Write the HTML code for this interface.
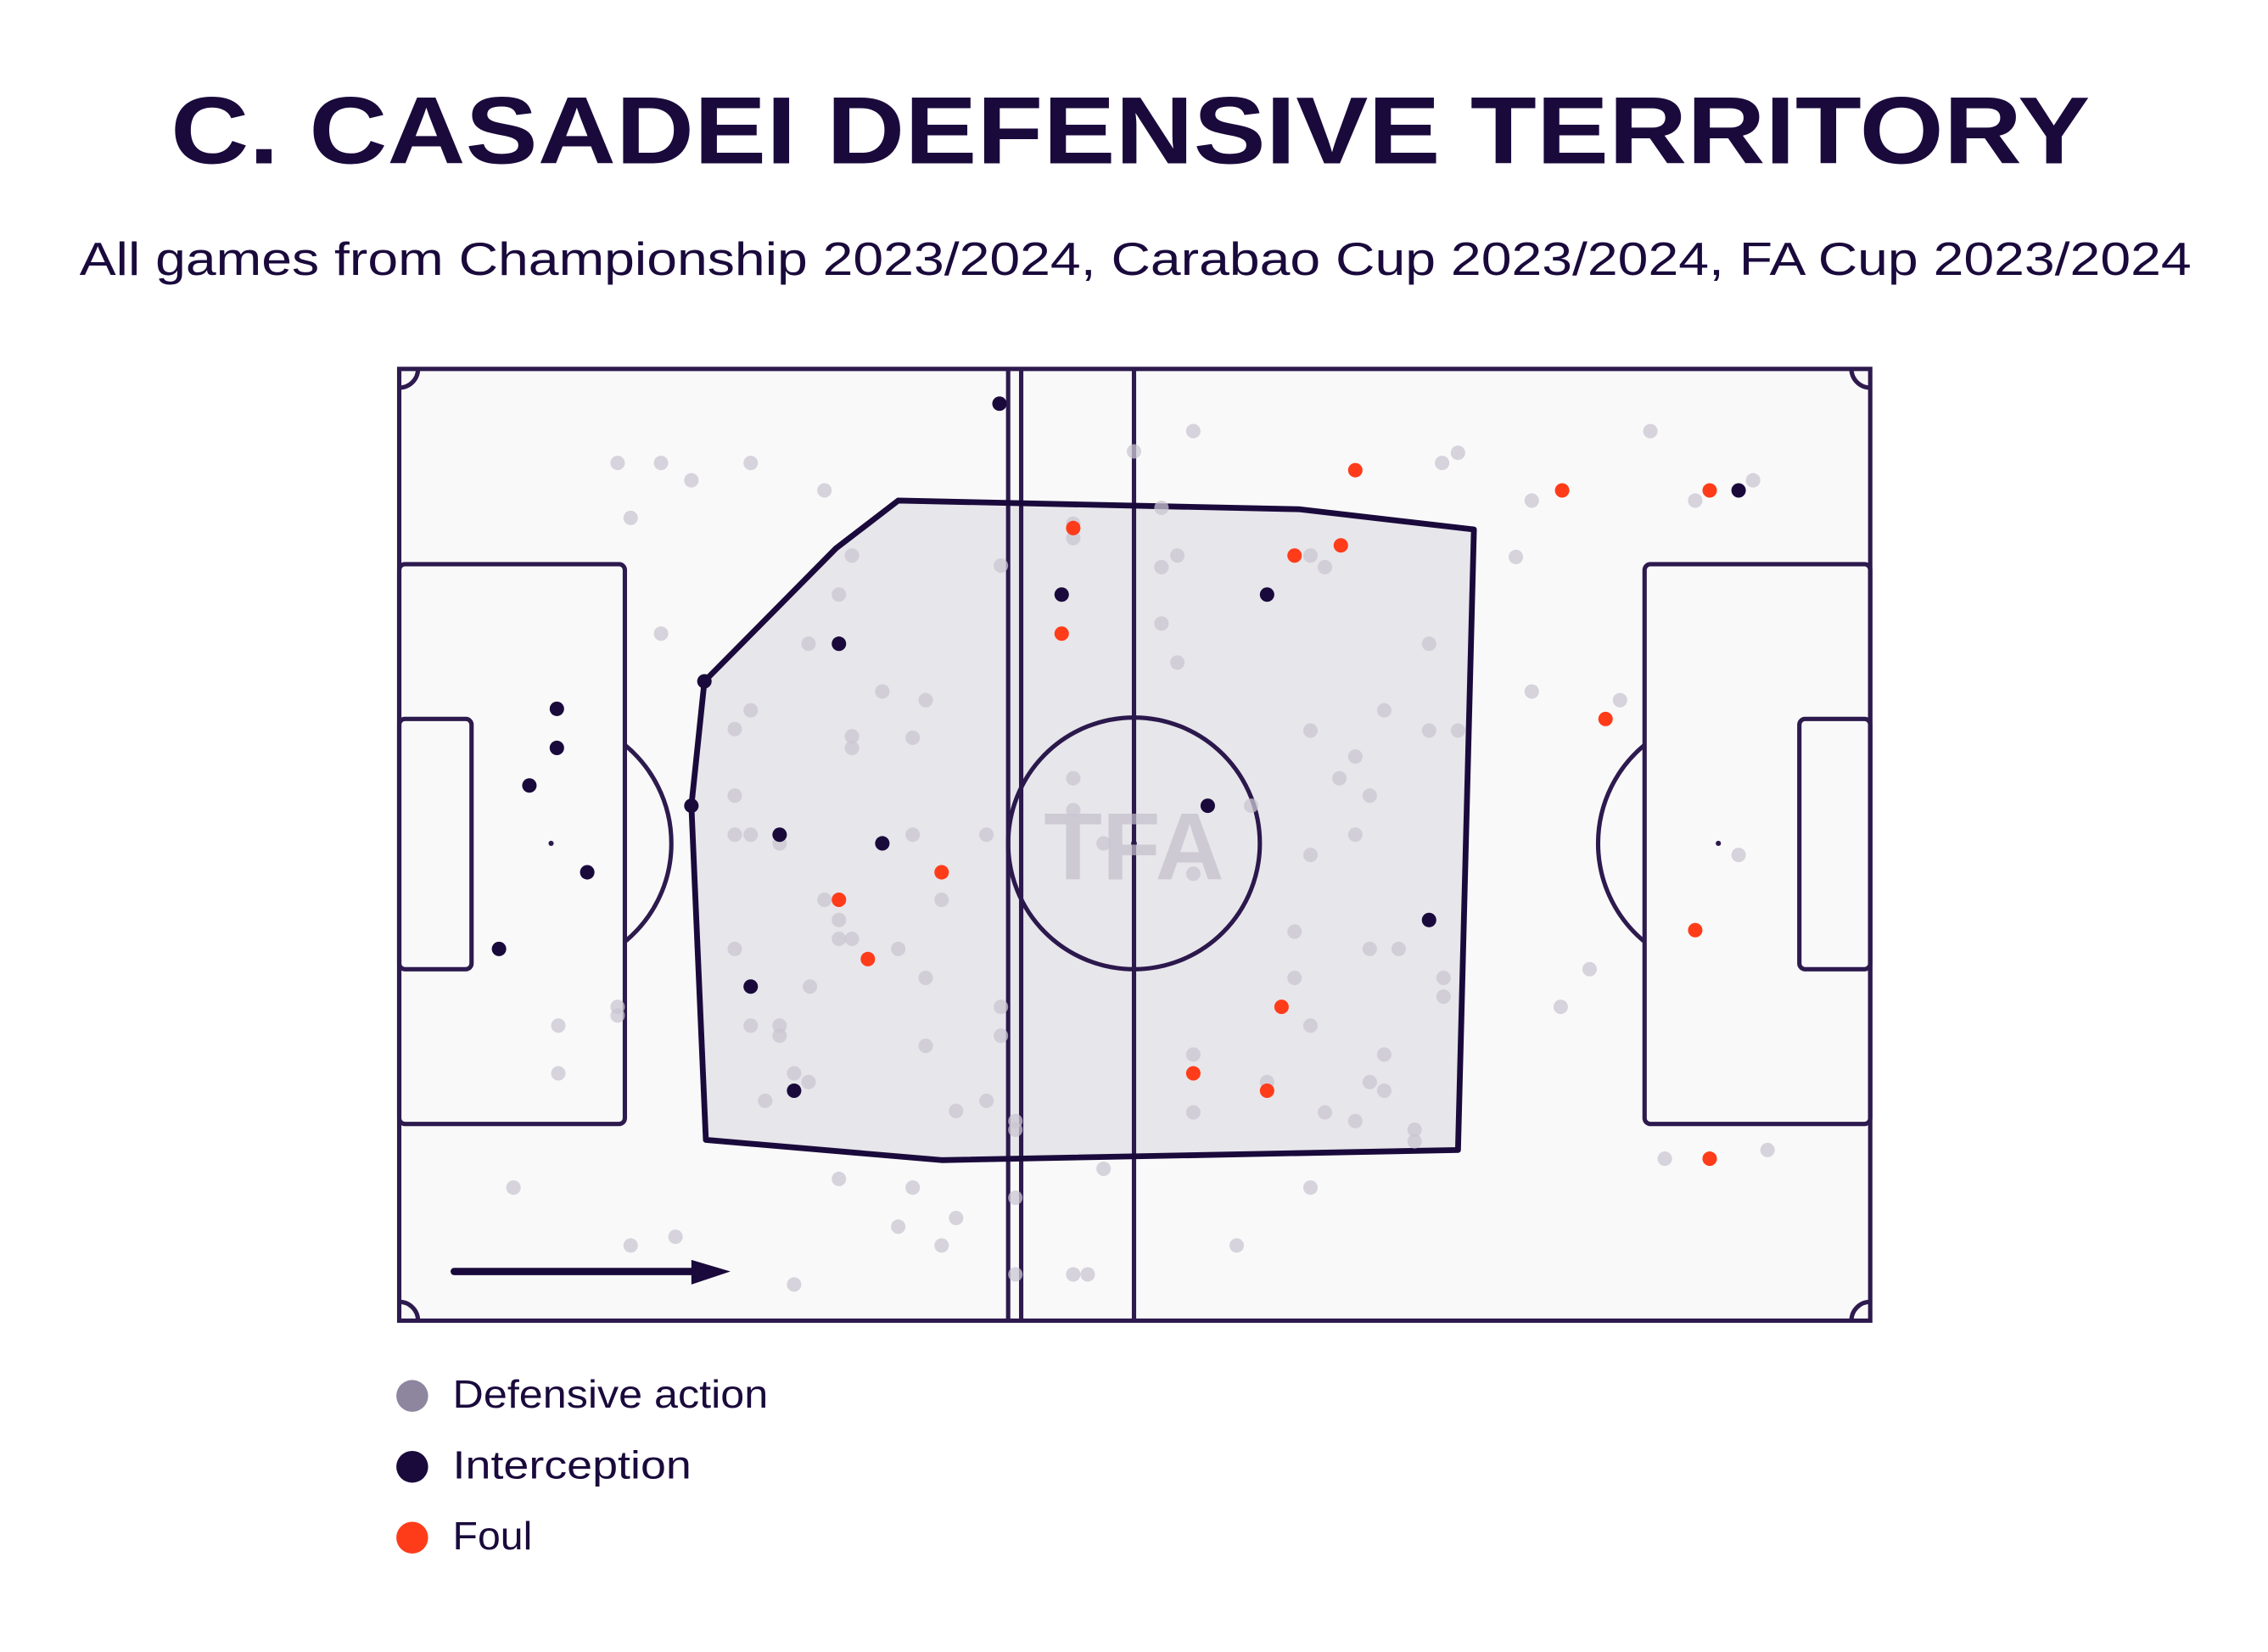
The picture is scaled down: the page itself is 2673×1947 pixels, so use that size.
<!DOCTYPE html>
<html><head><meta charset="utf-8"><style>
html,body{margin:0;padding:0;background:#fff;}
svg{display:block;}
</style></head><body>
<svg width="2673" height="1947" viewBox="0 0 1568 1142" xmlns="http://www.w3.org/2000/svg" font-family="'Liberation Sans', sans-serif">
<rect width="1568" height="1142" fill="#fff"/>
<text x="118" y="113" font-size="66" font-weight="900" fill="#1a0a3c" textLength="1327" lengthAdjust="spacingAndGlyphs">C. CASADEI DEFENSIVE TERRITORY</text>
<text x="55" y="190" font-size="32" fill="#1a0a3c" textLength="1460" lengthAdjust="spacingAndGlyphs">All games from Championship 2023/2024, Carabao Cup 2023/2024, FA Cup 2023/2024</text>
<g fill="none" stroke="#2d1a4e" stroke-width="3">
<rect x="276" y="255" width="1017" height="658" fill="#f9f9f9"/>
<line x1="784" y1="255" x2="784" y2="913"/>
<line x1="697" y1="255" x2="697" y2="913"/>
<line x1="706" y1="255" x2="706" y2="913"/>
<circle cx="784" cy="583" r="87"/>
<rect x="276" y="390" width="156" height="387" rx="4"/>
<rect x="276" y="497" width="50" height="173" rx="4"/>
<path d="M432 515 A88 88 0 0 1 432 651"/>
<rect x="1137" y="390" width="156" height="387" rx="4"/>
<rect x="1244" y="497" width="49" height="173" rx="4"/>
<path d="M1137 515 A88 88 0 0 0 1137 651"/>
<path d="M276 268 A13 13 0 0 0 289 255"/>
<path d="M1280 255 A13 13 0 0 0 1293 268"/>
<path d="M276 900 A13 13 0 0 1 289 913"/>
<path d="M1280 913 A13 13 0 0 1 1293 900"/>
</g>
<circle cx="381" cy="583" r="1.8" fill="#2d1a4e"/>
<circle cx="1188" cy="583" r="1.8" fill="#2d1a4e"/>
<circle cx="784" cy="583" r="2" fill="#2d1a4e"/>
<text x="784" y="608" text-anchor="middle" font-size="66" font-weight="900" fill="#d2cfd8" opacity="0.7">TFA</text>
<polygon points="621,346 898,352 1019,366 1008,795 651,802 488,788 478,557 487,471 578,379" fill="#1a0a3c" fill-opacity="0.08" stroke="#1a0a3c" stroke-width="4" stroke-linejoin="round"/>
<g fill="#c9c5d2" fill-opacity="0.75">
<circle cx="427" cy="320" r="5"/><circle cx="457" cy="320" r="5"/><circle cx="478" cy="332" r="5"/><circle cx="519" cy="320" r="5"/><circle cx="570" cy="339" r="5"/><circle cx="436" cy="358" r="5"/><circle cx="589" cy="384" r="5"/><circle cx="580" cy="411" r="5"/><circle cx="457" cy="438" r="5"/><circle cx="559" cy="445" r="5"/><circle cx="610" cy="478" r="5"/><circle cx="640" cy="484" r="5"/><circle cx="519" cy="491" r="5"/><circle cx="508" cy="504" r="5"/><circle cx="589" cy="509" r="5"/><circle cx="589" cy="517" r="5"/><circle cx="631" cy="510" r="5"/><circle cx="508" cy="550" r="5"/><circle cx="508" cy="577" r="5"/><circle cx="519" cy="577" r="5"/><circle cx="539" cy="583" r="5"/><circle cx="631" cy="577" r="5"/><circle cx="682" cy="577" r="5"/><circle cx="570" cy="622" r="5"/><circle cx="651" cy="622" r="5"/><circle cx="580" cy="636" r="5"/><circle cx="580" cy="649" r="5"/><circle cx="589" cy="649" r="5"/><circle cx="621" cy="656" r="5"/><circle cx="508" cy="656" r="5"/><circle cx="560" cy="682" r="5"/><circle cx="640" cy="676" r="5"/><circle cx="427" cy="696" r="5"/><circle cx="427" cy="702" r="5"/><circle cx="386" cy="709" r="5"/><circle cx="519" cy="709" r="5"/><circle cx="539" cy="709" r="5"/><circle cx="539" cy="716" r="5"/><circle cx="692" cy="696" r="5"/><circle cx="692" cy="716" r="5"/><circle cx="640" cy="723" r="5"/><circle cx="386" cy="742" r="5"/><circle cx="549" cy="742" r="5"/><circle cx="559" cy="748" r="5"/><circle cx="529" cy="761" r="5"/><circle cx="661" cy="768" r="5"/><circle cx="682" cy="761" r="5"/><circle cx="702" cy="775" r="5"/><circle cx="580" cy="815" r="5"/><circle cx="631" cy="821" r="5"/><circle cx="661" cy="842" r="5"/><circle cx="621" cy="848" r="5"/><circle cx="651" cy="861" r="5"/><circle cx="549" cy="888" r="5"/><circle cx="436" cy="861" r="5"/><circle cx="467" cy="855" r="5"/><circle cx="355" cy="821" r="5"/><circle cx="702" cy="828" r="5"/><circle cx="742" cy="881" r="5"/><circle cx="752" cy="881" r="5"/><circle cx="702" cy="881" r="5"/><circle cx="742" cy="362" r="5"/><circle cx="742" cy="372" r="5"/><circle cx="692" cy="391" r="5"/><circle cx="742" cy="538" r="5"/><circle cx="742" cy="560" r="5"/><circle cx="763" cy="583" r="5"/><circle cx="803" cy="392" r="5"/><circle cx="814" cy="384" r="5"/><circle cx="803" cy="431" r="5"/><circle cx="814" cy="458" r="5"/><circle cx="784" cy="312" r="5"/><circle cx="825" cy="298" r="5"/><circle cx="803" cy="351" r="5"/><circle cx="906" cy="384" r="5"/><circle cx="916" cy="392" r="5"/><circle cx="988" cy="445" r="5"/><circle cx="957" cy="491" r="5"/><circle cx="906" cy="505" r="5"/><circle cx="988" cy="505" r="5"/><circle cx="1008" cy="505" r="5"/><circle cx="937" cy="523" r="5"/><circle cx="926" cy="538" r="5"/><circle cx="947" cy="550" r="5"/><circle cx="865" cy="557" r="5"/><circle cx="825" cy="604" r="5"/><circle cx="906" cy="591" r="5"/><circle cx="937" cy="577" r="5"/><circle cx="895" cy="644" r="5"/><circle cx="947" cy="656" r="5"/><circle cx="967" cy="656" r="5"/><circle cx="998" cy="676" r="5"/><circle cx="998" cy="689" r="5"/><circle cx="895" cy="676" r="5"/><circle cx="906" cy="709" r="5"/><circle cx="957" cy="729" r="5"/><circle cx="947" cy="748" r="5"/><circle cx="957" cy="754" r="5"/><circle cx="937" cy="775" r="5"/><circle cx="916" cy="769" r="5"/><circle cx="978" cy="781" r="5"/><circle cx="978" cy="789" r="5"/><circle cx="876" cy="748" r="5"/><circle cx="825" cy="729" r="5"/><circle cx="825" cy="769" r="5"/><circle cx="763" cy="808" r="5"/><circle cx="906" cy="821" r="5"/><circle cx="855" cy="861" r="5"/><circle cx="997" cy="320" r="5"/><circle cx="1008" cy="313" r="5"/><circle cx="1059" cy="346" r="5"/><circle cx="1048" cy="385" r="5"/><circle cx="1059" cy="478" r="5"/><circle cx="1120" cy="484" r="5"/><circle cx="1099" cy="670" r="5"/><circle cx="1079" cy="696" r="5"/><circle cx="1141" cy="298" r="5"/><circle cx="1212" cy="332" r="5"/><circle cx="1172" cy="346" r="5"/><circle cx="1202" cy="591" r="5"/><circle cx="1151" cy="801" r="5"/><circle cx="1222" cy="795" r="5"/><circle cx="702" cy="781" r="5"/>
</g>
<g fill="#1a0a3c">
<circle cx="691" cy="279" r="5"/><circle cx="734" cy="411" r="5"/><circle cx="580" cy="445" r="5"/><circle cx="876" cy="411" r="5"/><circle cx="487" cy="471" r="5"/><circle cx="385" cy="490" r="5"/><circle cx="385" cy="517" r="5"/><circle cx="366" cy="543" r="5"/><circle cx="478" cy="557" r="5"/><circle cx="539" cy="577" r="5"/><circle cx="610" cy="583" r="5"/><circle cx="406" cy="603" r="5"/><circle cx="835" cy="557" r="5"/><circle cx="988" cy="636" r="5"/><circle cx="345" cy="656" r="5"/><circle cx="519" cy="682" r="5"/><circle cx="549" cy="754" r="5"/><circle cx="1202" cy="339" r="5"/>
</g>
<g fill="#ff3c1a">
<circle cx="937" cy="325" r="5"/><circle cx="1080" cy="339" r="5"/><circle cx="1182" cy="339" r="5"/><circle cx="742" cy="365" r="5"/><circle cx="927" cy="377" r="5"/><circle cx="895" cy="384" r="5"/><circle cx="734" cy="438" r="5"/><circle cx="1110" cy="497" r="5"/><circle cx="651" cy="603" r="5"/><circle cx="580" cy="622" r="5"/><circle cx="600" cy="663" r="5"/><circle cx="1172" cy="643" r="5"/><circle cx="886" cy="696" r="5"/><circle cx="825" cy="742" r="5"/><circle cx="876" cy="754" r="5"/><circle cx="1182" cy="801" r="5"/>
</g>
<line x1="314" y1="879" x2="482" y2="879" stroke="#1a0a3c" stroke-width="5" stroke-linecap="round"/>
<polygon points="478,871 505,879 478,888" fill="#1a0a3c"/>
<circle cx="285" cy="965" r="11" fill="#8e859f"/>
<circle cx="285" cy="1014" r="11" fill="#1a0a3c"/>
<circle cx="285" cy="1063" r="11" fill="#ff3c1a"/>
<g font-size="27" fill="#1a0a3c">
<text x="313" y="973" textLength="218" lengthAdjust="spacingAndGlyphs">Defensive action</text>
<text x="313" y="1022" textLength="165" lengthAdjust="spacingAndGlyphs">Interception</text>
<text x="313" y="1071" textLength="55" lengthAdjust="spacingAndGlyphs">Foul</text>
</g>
</svg>
</body></html>
